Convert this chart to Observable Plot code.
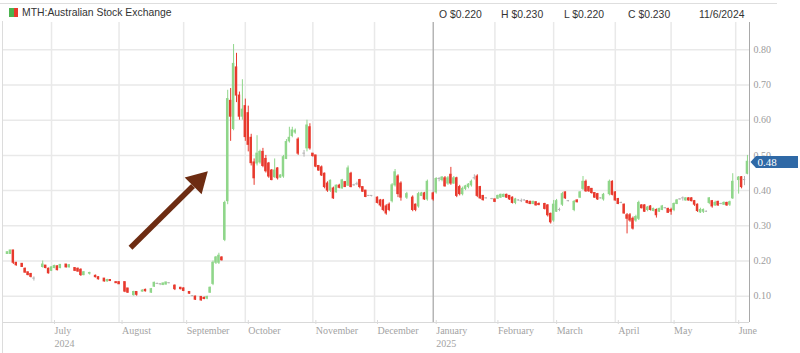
<!DOCTYPE html>
<html>
<head>
<meta charset="utf-8">
<script src="https://cdn.jsdelivr.net/npm/d3@7"></script>
<script src="https://cdn.jsdelivr.net/npm/@observablehq/plot@0.6"></script>
<style>
  body { margin: 0; background: #fff; }
  #wrap { position: relative; width: 800px; height: 353px; overflow: hidden; background: #fff;
          font-family: "Liberation Sans", Arial, Helvetica, sans-serif; }
  #head { position: absolute; left: 0; top: 0; width: 800px; height: 22px; }
  #topline { position: absolute; left: 0; top: 3px; width: 777px; height: 1px; background: #dedede; }
  #leftline { position: absolute; left: 2px; top: 21px; width: 1px; height: 332px; background: #dcdcdc; }
  #icon { position: absolute; left: 9px; top: 8px; width: 9px; height: 9px; }
  #icon span { display: inline-block; width: 4.5px; height: 9px; vertical-align: top; }
  .ht { position: absolute; font-size: 10.4px; color: #333; white-space: nowrap; line-height: 12px; }
  #chart { position: absolute; left: 0; top: 22px; }
</style>
</head>
<body>
<div id="wrap">
  <div id="head">
    <div id="topline"></div>
    <div id="icon"><span style="background:#4cb34f"></span><span style="background:#e8392d"></span></div>
  </div>
  <div id="leftline"></div>
  <div id="chart"></div>
</div>
<script>
// ---------- header texts ----------
const title = "MTH:Australian Stock Exchange";
const quoteLabels = ["O $0.220", "H $0.230", "L $0.220", "C $0.230", "11/6/2024"];

// ---------- axis ticks ----------
const yTicks = [0.1, 0.2, 0.3, 0.4, 0.5, 0.6, 0.7, 0.8];
// trading-session index of the first session of each month
const monthStart = [14, 37, 59, 80, 103, 124, 144, 165, 185, 206, 225, 247];
const monthLabel = ["July\n2024", "August", "September", "October", "November", "December",
                    "January\n2025", "February", "March", "April", "May", "June"];
const lastPrice = 0.48;

// ---------- candles: [session, open, high, low, close] ----------
const jun24 = [
  [-1,.22,.225,.22,.225],[0,.22,.23,.22,.23],[1,.23,.23,.19,.195],[2,.195,.195,.185,.188],
  [4,.192,.192,.182,.183],[5,.178,.18,.165,.167],[6,.168,.168,.158,.16],[7,.163,.165,.152,.155],
  [8,.15,.155,.143,.15],[11,.183,.2,.18,.19],[12,.187,.187,.178,.18],[13,.178,.18,.163,.165]
];
const jul24 = [
  [14,.172,.183,.17,.182],[15,.18,.188,.178,.186],[16,.185,.186,.172,.174],[17,.18,.19,.178,.189],
  [19,.19,.19,.18,.182],[20,.182,.19,.18,.188],[22,.18,.18,.17,.172],[23,.178,.18,.168,.17],
  [24,.175,.178,.156,.16],[25,.16,.17,.158,.168],[27,.164,.168,.16,.166],[29,.158,.16,.152,.154],
  [30,.154,.155,.146,.148],[32,.15,.15,.14,.142],[33,.142,.148,.14,.146],[34,.146,.147,.142,.143],
  [36,.14,.14,.136,.137]
];
const aug24 = [
  [37,.14,.14,.133,.134],[39,.14,.14,.11,.113],[40,.122,.122,.108,.11],[42,.103,.114,.1,.112],
  [43,.112,.112,.1,.104],[45,.113,.118,.112,.116],[46,.118,.12,.112,.114],[48,.11,.122,.108,.12],
  [49,.127,.14,.125,.138],[50,.135,.137,.133,.135],[51,.134,.136,.13,.134],[52,.132,.138,.13,.136],
  [53,.133,.14,.132,.139],[54,.137,.138,.135,.137],[56,.13,.132,.116,.12],[58,.124,.125,.118,.12]
];
const sep24 = [
  [59,.122,.124,.113,.115],[61,.112,.113,.106,.107],[62,.1,.101,.099,.1],[63,.099,.1,.088,.09],
  [65,.098,.098,.086,.088],[66,.095,.098,.09,.092],[67,.093,.1,.09,.098],[68,.11,.126,.108,.124],
  [69,.135,.2,.13,.195],[70,.195,.213,.19,.21],[71,.195,.222,.19,.215],[72,.21,.212,.2,.202],
  [73,.26,.37,.255,.365],[74,.37,.685,.36,.66],[75,.655,.69,.54,.61],[76,.575,.815,.57,.76],
  [77,.75,.79,.65,.67],[78,.67,.68,.6,.61],[79,.61,.715,.6,.63]
];
const oct24 = [
  [80,.64,.66,.54,.552],[81,.62,.64,.51,.53],[82,.55,.56,.47,.478],[83,.48,.49,.415,.435],
  [84,.477,.556,.47,.505],[85,.48,.515,.475,.51],[86,.51,.52,.465,.47],[87,.49,.5,.45,.455],
  [88,.477,.48,.435,.44],[89,.457,.46,.428,.43],[90,.438,.49,.435,.457],[91,.463,.465,.43,.435],
  [92,.437,.445,.435,.443],[93,.44,.5,.435,.495],[94,.49,.545,.488,.538],[95,.54,.58,.535,.55],
  [96,.555,.58,.55,.571],[97,.565,.575,.56,.57],[98,.545,.55,.5,.505],[100,.505,.514,.495,.505],
  [101,.52,.6,.51,.585],[102,.58,.59,.515,.52]
];
const nov24 = [
  [103,.505,.505,.495,.498],[104,.5,.5,.465,.468],[105,.47,.47,.455,.457],[106,.466,.47,.44,.443],
  [107,.448,.45,.405,.41],[108,.42,.425,.395,.4],[109,.4,.43,.395,.428],[110,.406,.41,.375,.378],
  [111,.395,.416,.393,.414],[112,.414,.418,.405,.408],[113,.406,.432,.404,.429],[114,.424,.426,.409,.41],
  [115,.414,.47,.412,.463],[116,.448,.452,.408,.41],[117,.415,.418,.412,.415],[118,.418,.424,.414,.418],
  [119,.43,.432,.405,.41],[120,.41,.41,.395,.397],[121,.4,.4,.38,.382],[122,.385,.386,.383,.385],
  [123,.385,.386,.382,.385]
];
const dec24 = [
  [125,.38,.382,.362,.365],[126,.372,.375,.353,.358],[127,.372,.375,.34,.345],[128,.355,.36,.33,.335],
  [129,.36,.365,.34,.345],[130,.37,.42,.365,.415],[131,.415,.46,.41,.452],[132,.44,.445,.38,.39],
  [133,.42,.425,.37,.38],[135,.38,.395,.375,.39],[137,.38,.385,.34,.345],[138,.36,.362,.34,.345],
  [139,.355,.395,.35,.39],[140,.385,.395,.383,.392],[141,.392,.395,.372,.375],[142,.375,.43,.37,.425]
];
const jan25 = [
  [144,.392,.395,.37,.375],[145,.395,.437,.39,.433],[146,.433,.437,.425,.433],[147,.43,.44,.425,.437],
  [148,.435,.44,.41,.412],[149,.42,.44,.415,.435],[150,.445,.466,.415,.42],[151,.42,.44,.418,.435],
  [152,.435,.438,.38,.385],[153,.41,.415,.385,.39],[154,.39,.41,.385,.405],[155,.405,.415,.4,.412],
  [156,.41,.42,.405,.417],[157,.415,.43,.41,.425],[158,.435,.445,.43,.435],[159,.44,.445,.38,.385],
  [160,.41,.412,.375,.378],[161,.385,.386,.37,.373],[162,.378,.38,.376,.378],[164,.376,.378,.374,.376]
];
const feb25 = [
  [165,.375,.376,.366,.368],[166,.377,.387,.375,.385],[167,.38,.39,.378,.388],[168,.382,.39,.38,.388],
  [169,.388,.39,.378,.38],[170,.385,.386,.372,.375],[171,.38,.382,.362,.365],[172,.365,.378,.36,.375],
  [173,.372,.374,.37,.372],[174,.37,.376,.366,.37],[175,.372,.374,.37,.372],[176,.37,.372,.362,.365],
  [177,.368,.37,.36,.362],[178,.362,.37,.36,.368],[179,.367,.368,.356,.358],[180,.362,.365,.357,.359],
  [182,.362,.364,.345,.348],[183,.358,.36,.325,.33],[184,.334,.336,.305,.31]
];
const mar25 = [
  [185,.315,.372,.31,.36],[186,.34,.375,.338,.37],[187,.345,.35,.34,.345],[188,.36,.395,.355,.39],
  [189,.395,.396,.375,.378],[190,.37,.372,.368,.37],[192,.345,.372,.34,.368],[193,.372,.374,.365,.367],
  [194,.38,.397,.378,.395],[195,.405,.44,.4,.425],[196,.425,.43,.395,.398],[197,.41,.412,.395,.398],
  [198,.405,.406,.39,.393],[199,.393,.394,.378,.38],[200,.39,.392,.372,.375],[201,.378,.38,.376,.378],
  [202,.375,.392,.37,.388],[204,.39,.43,.385,.425],[205,.425,.428,.385,.388]
];
const apr25 = [
  [206,.395,.397,.37,.372],[207,.376,.378,.36,.362],[208,.365,.367,.363,.365],[209,.36,.362,.333,.335],
  [210,.33,.335,.277,.32],[211,.33,.335,.31,.315],[212,.32,.325,.288,.292],[213,.315,.33,.31,.325],
  [214,.32,.37,.315,.365],[215,.358,.36,.348,.35],[216,.358,.36,.338,.34],[217,.345,.355,.34,.352],
  [218,.355,.357,.342,.345],[219,.342,.35,.34,.348],[220,.345,.348,.322,.33],[221,.34,.35,.338,.348],
  [222,.345,.358,.343,.355],[223,.35,.352,.348,.35],[224,.348,.35,.335,.337]
];
const may25 = [
  [225,.345,.35,.33,.34],[226,.345,.365,.34,.362],[227,.362,.375,.36,.372],[228,.375,.377,.373,.375],
  [229,.378,.382,.37,.378],[230,.372,.38,.37,.378],[231,.378,.38,.37,.372],[232,.378,.38,.368,.37],
  [233,.37,.372,.355,.36],[234,.36,.362,.338,.342],[235,.338,.35,.335,.345],[236,.34,.348,.335,.345],
  [237,.34,.342,.338,.34],[238,.365,.38,.36,.378],[239,.37,.372,.35,.355],[240,.358,.37,.355,.365],
  [241,.368,.37,.355,.358],[242,.362,.364,.36,.362],[243,.36,.368,.358,.365],[244,.365,.367,.355,.358],
  [245,.36,.37,.355,.367],[246,.378,.448,.375,.425]
];
const jun25 = [
  [248,.43,.44,.39,.437],[249,.438,.44,.405,.41],[250,.43,.44,.414,.43],[251,.448,.5,.445,.482]
];

// ---------- annotation arrow (session, price) ----------
const arrowShaft = [[40.9, 0.2375], [62.2, 0.4133]];
const arrowHead = [[63.9, 0.4273]];

// ---------- colours ----------
const UP = "#8fd68a", DOWN = "#e8392d", FLAT = "#b3b3b3", ARROW = "#6d2c12";

// header
const head = document.getElementById("head");
function addText(txt, left, top) {
  const d = document.createElement("div");
  d.className = "ht"; d.textContent = txt;
  d.style.left = left + "px"; d.style.top = top + "px";
  head.appendChild(d);
}
addText(title, 22, 6.5);
const quoteX = [439, 501, 564, 628, 699];
quoteLabels.forEach((t, i) => addText(t, quoteX[i], 9));

const candles = [...jun24, ...jul24, ...aug24, ...sep24, ...oct24, ...nov24, ...dec24,
                 ...jan25, ...feb25, ...mar25, ...apr25, ...may25, ...jun25]
  .map(([i, o, h, l, c]) => ({i, o, h, l, c}));
const col = d => d.c > d.o ? UP : d.c < d.o ? DOWN : FLAT;

const xDom = [-2.35, 251.7];
const yDom = [0.0253, 0.8776];
const serif = "'Liberation Serif', 'Times New Roman', Times, serif";

const chart = Plot.plot({
  width: 800, height: 331,
  marginTop: 0, marginBottom: 31, marginLeft: 3, marginRight: 51,
  x: {type: "linear", domain: xDom},
  y: {domain: yDom},
  style: {background: "transparent", fontFamily: serif},
  marks: [
    Plot.ruleY(yTicks, {stroke: "#e9e9e9", strokeWidth: 1.5}),
    Plot.ruleX(monthStart.filter(d => d !== 144), {stroke: "#e9e9e9", strokeWidth: 1.5}),
    Plot.ruleX([144], {stroke: "#b5b5b5", strokeWidth: 1.5}),
    Plot.ruleY([yDom[0]], {stroke: "#d9d9d9", strokeWidth: 1.2}),
    Plot.ruleX([xDom[1]], {stroke: "#a9a9a9", strokeWidth: 1}),
    Plot.axisX({
      ticks: monthStart,
      tickFormat: d => monthLabel[monthStart.indexOf(d)],
      tickSize: 4, tickPadding: 0, textAnchor: "start", dx: 3, dy: -2,
      stroke: "#dadada", fill: "#a3a3a3", fontSize: 10, lineHeight: 1.3, label: null
    }),
    Plot.axisY({
      anchor: "right", ticks: yTicks, tickSize: 0, tickPadding: 4,
      tickFormat: d3.format(".2f"), fill: "#9c9c9c", fontSize: 10, label: null
    }),
    Plot.ruleX(candles, {x: "i", y1: "l", y2: "h", stroke: col, strokeWidth: 1}),
    Plot.rect(candles, {x1: d => d.i - 0.42, x2: d => d.i + 0.42, y1: "o", y2: "c",
                        fill: col, insetTop: -0.5, insetBottom: -0.5}),
    Plot.line(arrowShaft, {x: d => d[0], y: d => d[1], stroke: ARROW, strokeWidth: 5.5,
                           strokeLinecap: "butt"}),
    Plot.dot(arrowHead, {x: d => d[0], y: d => d[1], symbol: "triangle", r: 8.9,
                         fill: ARROW, rotate: 45})
  ]
});
document.getElementById("chart").appendChild(chart);

// last-price tag on the right axis
const ty = chart.scale("y").apply(lastPrice);
const svg = d3.select(chart);
const g = svg.append("g").attr("text-anchor", "start");
g.append("path")
  .attr("d", `M750.5,${ty} L756,${ty - 6} L798,${ty - 6} L798,${ty + 6} L756,${ty + 6} Z`)
  .attr("fill", "#2f69a6");
g.append("text")
  .attr("x", 757.5).attr("y", ty).attr("dy", "0.36em")
  .attr("text-anchor", "start")
  .attr("fill", "#fff").attr("font-size", 11).attr("font-family", serif)
  .text(d3.format(".2f")(lastPrice));
</script>
</body>
</html>
